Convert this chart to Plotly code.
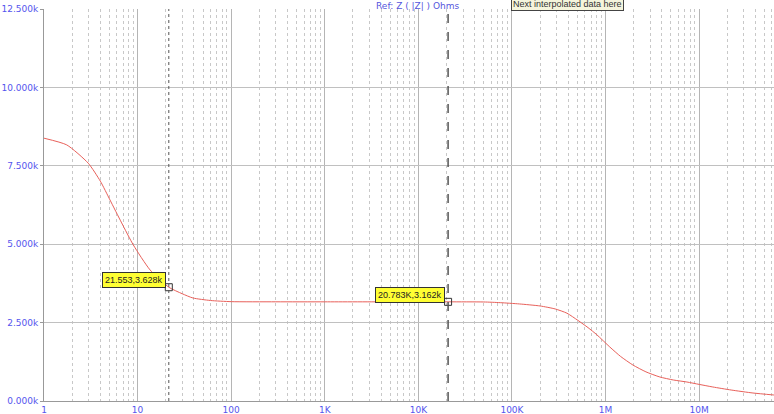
import math
import plotly.graph_objects as go

freq = [1, 1.75, 2.97, 4.0, 5.07, 6.76, 9.0, 13.6, 21.553, 30, 39, 60, 100, 300, 1000, 5000, 20783,
        50000, 75000, 120000, 200000, 290000, 387000, 507000, 650000, 809000, 1110000, 1450000,
        1960000, 2700000, 3800000, 5300000, 7400000, 10000000, 14000000, 22000000, 37600000, 63000000]
imp = [8380, 8166, 7583, 7010, 6412, 5678, 4976, 4179, 3628, 3420, 3285, 3205, 3168, 3163, 3162, 3162, 3162,
       3158, 3136, 3095, 3030, 2935, 2800, 2570, 2340, 2110, 1723, 1420,
       1148, 930, 766, 670, 606, 530, 447, 350, 255, 191]

cursor_x = [21.553, 20783]
cursor_y = [3628, 3162]
cursor_txt = ["21.553,3.628k", "20.783K,3.162k"]

ytick_vals = [0, 2500, 5000, 7500, 10000, 12500]
ytick_text = ["0.000k", "2.500k", "5.000k", "7.500k", "10.000k", "12.500k"]
xtick_vals = [1, 10, 100, 1e3, 1e4, 1e5, 1e6, 1e7]
xtick_text = ["1", "10", "100", "1K", "10K", "100K", "1M", "10M"]

fig = go.Figure()
fig.add_trace(go.Scatter(x=freq, y=imp, mode="lines",
                         line=dict(color="#e8605a", width=1, shape="spline", smoothing=0.6),
                         hoverinfo="skip", showlegend=False))
fig.add_trace(go.Scatter(x=cursor_x, y=cursor_y, mode="markers",
                         marker=dict(symbol="square-open", size=7, color="#333333", line=dict(width=1)),
                         showlegend=False, hoverinfo="skip"))

fig.add_vline(x=cursor_x[0], line=dict(color="#555555", width=1, dash="dot"))
fig.add_vline(x=cursor_x[1], line=dict(color="#555555", width=1.5, dash="dash"))

for cx, cy, t in zip(cursor_x, cursor_y, cursor_txt):
    fig.add_annotation(x=math.log10(cx), y=cy, text=t, showarrow=False, xanchor="right", yanchor="bottom",
                       xshift=-3, yshift=-1,
                       bgcolor="#ffff33", bordercolor="#333333", borderwidth=1, borderpad=2,
                       font=dict(family="Liberation Sans", size=9, color="#222222"))

fig.add_annotation(x=0.512, y=1.0, xref="paper", yref="paper", text="Ref: Z ( |Z| ) Ohms", showarrow=False,
                   xanchor="center", yanchor="middle", yshift=3,
                   font=dict(family="DejaVu Sans", size=9, color="#5555dd"))
fig.add_annotation(x=0.795, y=1.0, xref="paper", yref="paper", text="Next interpolated data here",
                   showarrow=False, yanchor="middle", yshift=5, bgcolor="#f5f5dc", bordercolor="#444444",
                   borderwidth=1, borderpad=1, font=dict(family="Liberation Sans", size=9, color="#333333"))

fig.update_layout(
    width=774, height=414,
    margin=dict(l=44, r=0, t=9, b=13),
    paper_bgcolor="white", plot_bgcolor="white",
    xaxis=dict(type="log", range=[0, 7.8], tickvals=xtick_vals, ticktext=xtick_text,
               showgrid=True, gridcolor="#b5b5b5", gridwidth=1,
               minor=dict(dtick="D1", showgrid=True, gridcolor="#c8c8c8", griddash="dot", gridwidth=1),
               showline=True, linecolor="#999999", ticks="", zeroline=False,
               tickfont=dict(family="DejaVu Sans", size=9, color="#5555ee")),
    yaxis=dict(range=[0, 12500], tickvals=ytick_vals, ticktext=ytick_text,
               showgrid=True, gridcolor="#c0c0c0", gridwidth=1,
               showline=True, linecolor="#999999", ticks="outside", ticklen=3, tickcolor="#999999",
               zeroline=False,
               tickfont=dict(family="DejaVu Sans", size=9, color="#5555ee")),
)

fig.write_html("out.html")
